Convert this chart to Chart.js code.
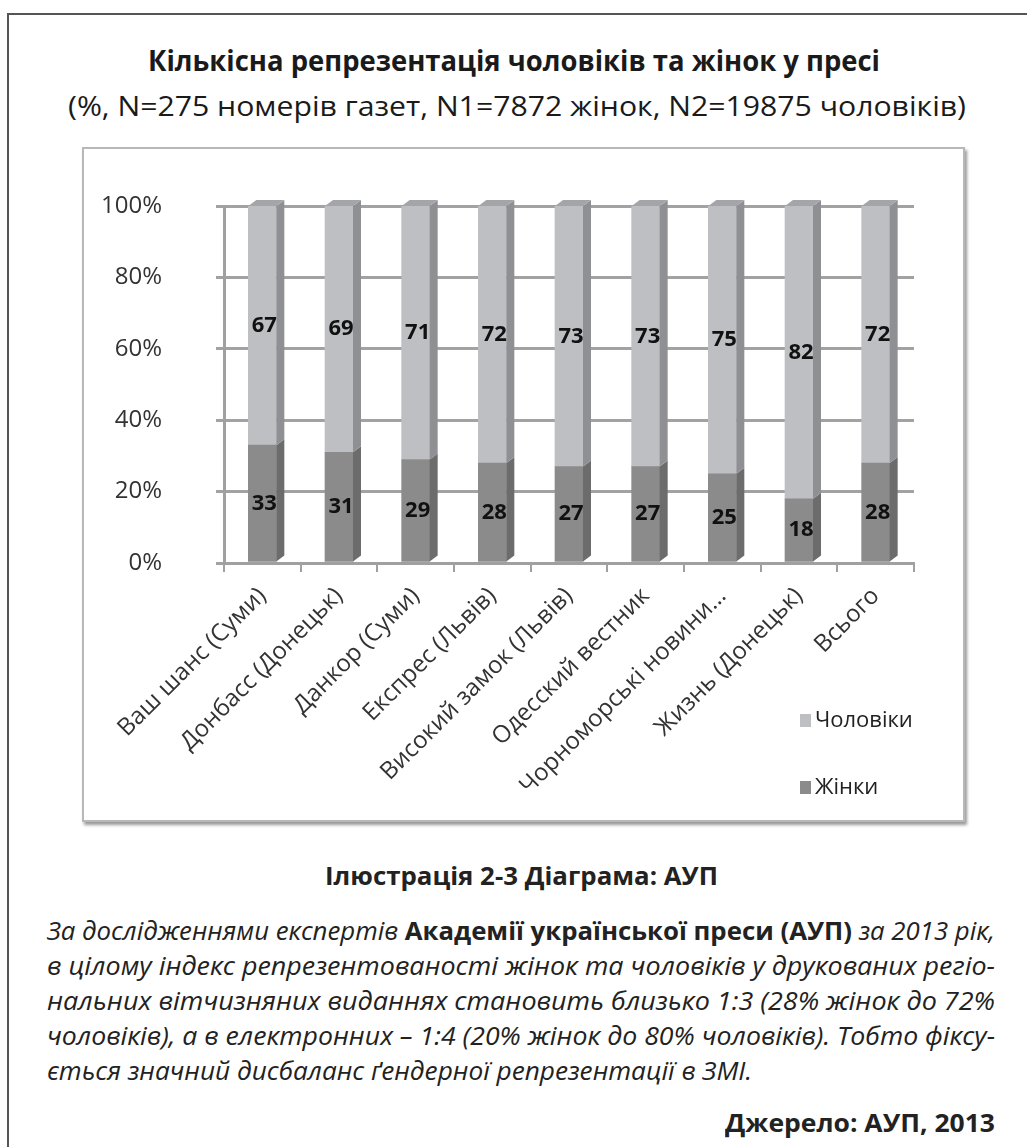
<!DOCTYPE html>
<html>
<head>
<meta charset="utf-8">
<script src="https://cdn.jsdelivr.net/npm/chart.js@4/dist/chart.umd.min.js"></script>
<style>
  body { margin: 0; background: #fff; width: 1027px; height: 1147px; overflow: hidden; position: relative; font-family: "Open Sans", sans-serif; color: #222; }
  .outer { position: absolute; left: 7px; top: 13px; width: 1040px; height: 1160px; border-left: 2px solid #555; border-top: 2px solid #555; }
  .t { position: absolute; white-space: nowrap; transform-origin: left top; }
  .frame { position: absolute; left: 82px; top: 147px; width: 879px; height: 671px; border: 2px solid #b8b8b8; box-shadow: 2px 3px 3px #999; background: #fff; }
  #wrap { position: absolute; left: 84px; top: 149px; width: 879px; height: 671px; }
</style>
</head>
<body>
<div class="outer"></div>

<div class="t" data-x="148" data-w="732" style="top:40px;font-size:29px;font-weight:700;color:#1a1a1a">Кількісна репрезентація чоловіків та жінок у пресі</div>
<div class="t" data-x="68" data-w="898" style="top:86px;font-size:28px;color:#1a1a1a">(%, N=275 номерів газет, N1=7872 жінок, N2=19875 чоловіків)</div>

<div class="frame"></div>
<div id="wrap"><canvas id="chart" width="879" height="671"></canvas></div>

<div class="t" data-x="325" data-w="393" style="top:858px;font-size:25px;font-weight:700">Ілюстрація 2-3 Діаграма: АУП</div>
<div class="t" data-x="47" data-w="948" style="top:913px;font-size:25px;font-style:italic">За дослідженнями експертів <b style="font-style:normal">Академії української преси (АУП)</b> за 2013 рік,</div>
<div class="t" data-x="47" data-w="948" style="top:948px;font-size:25px;font-style:italic">в цілому індекс репрезентованості жінок та чоловіків у друкованих регіо-</div>
<div class="t" data-x="47" data-w="948" style="top:983px;font-size:25px;font-style:italic">нальних вітчизняних виданнях становить близько 1:3 (28% жінок до 72%</div>
<div class="t" data-x="47" data-w="948" style="top:1018px;font-size:25px;font-style:italic">чоловіків), а в електронних – 1:4 (20% жінок до 80% чоловіків). Тобто фіксу-</div>
<div class="t" data-x="47" data-w="705" style="top:1053px;font-size:25px;font-style:italic">ється значний дисбаланс ґендерної репрезентації в ЗМІ.</div>
<div class="t" data-x="725" data-w="270" style="top:1105px;font-size:25px;font-weight:700">Джерело: АУП, 2013</div>

<script>
// fit each text line to the width it takes in the scan
document.querySelectorAll('.t').forEach(function (el) {
  var w = el.getBoundingClientRect().width;
  var target = +el.dataset.w;
  el.style.left = el.dataset.x + 'px';
  el.style.transform = 'scaleX(' + (target / w) + ')';
});

const categories = ['Ваш шанс (Суми)', 'Донбасс (Донецьк)', 'Данкор (Суми)', 'Експрес (Львів)',
  'Високий замок (Львів)', 'Одесский вестник', 'Чорноморські новини…', 'Жизнь (Донецьк)', 'Всього'];
const women = [33, 31, 29, 28, 27, 27, 25, 18, 28];
const men = [67, 69, 71, 72, 73, 73, 75, 82, 72];
const yTicks = [0, 20, 40, 60, 80, 100];

const menColor = '#bebfc3', menSide = '#8f9093';
const womenColor = '#8b8b8c', womenSide = '#6c6c6d';

// fake 3d: side and top faces, then value labels and legend
const depth = {
  id: 'depth',
  afterDatasetsDraw(chart) {
    const ctx = chart.ctx;
    const d = 8, dy = 6;
    chart.data.datasets.forEach(function (ds, i) {
      chart.getDatasetMeta(i).data.forEach(function (bar, j) {
        const x1 = bar.x + bar.width / 2;
        const top = Math.min(bar.y, bar.base), bot = Math.max(bar.y, bar.base);
        ctx.fillStyle = ds.sideColor;
        ctx.beginPath();
        ctx.moveTo(x1, top); ctx.lineTo(x1 + d, top - dy);
        ctx.lineTo(x1 + d, bot - dy); ctx.lineTo(x1, bot);
        ctx.closePath(); ctx.fill();
        if (i === chart.data.datasets.length - 1) {
          const x0 = bar.x - bar.width / 2;
          ctx.fillStyle = '#a4a5a8';
          ctx.beginPath();
          ctx.moveTo(x0, top); ctx.lineTo(x0 + d, top - dy);
          ctx.lineTo(x1 + d, top - dy); ctx.lineTo(x1, top);
          ctx.closePath(); ctx.fill();
        }
        ctx.fillStyle = '#111';
        ctx.font = 'bold 22px "Open Sans", sans-serif';
        ctx.textAlign = 'center';
        ctx.textBaseline = 'middle';
        ctx.fillText(ds.data[j], bar.x + 2, (top + bot) / 2);
      });
    });
    const items = [['Чоловіки', menColor, 571], ['Жінки', womenColor, 638]];
    items.forEach(function (it) {
      ctx.fillStyle = it[1];
      ctx.fillRect(716, it[2] - 6, 11, 13);
      ctx.fillStyle = '#222';
      ctx.font = '22px "Open Sans", sans-serif';
      ctx.textAlign = 'left';
      ctx.fillText(it[0], 731, it[2] + 1);
    });
  }
};

new Chart(document.getElementById('chart'), {
  type: 'bar',
  data: {
    labels: categories,
    datasets: [
      { label: 'Жінки', data: women, backgroundColor: womenColor, sideColor: womenSide, barThickness: 28 },
      { label: 'Чоловіки', data: men, backgroundColor: menColor, sideColor: menSide, barThickness: 28 }
    ]
  },
  options: {
    responsive: false,
    animation: false,
    layout: { padding: { top: 57, right: 49, left: 0, bottom: 0 } },
    plugins: { legend: { display: false }, tooltip: { enabled: false } },
    scales: {
      x: {
        stacked: true,
        offset: true,
        afterFit(a) { a.height = 257; },
        grid: { display: true, drawOnChartArea: false, offset: true, color: '#a0a0a0', lineWidth: 2, tickLength: 9 },
        border: { color: '#a0a0a0', width: 3 },
        ticks: { color: '#333', font: { size: 24, family: 'Open Sans' }, minRotation: 45, maxRotation: 45, padding: 10 }
      },
      y: {
        stacked: true,
        min: 0, max: 100,
        afterFit(a) { a.width = 140; a.paddingTop = 0; a.paddingBottom = 0; },
        afterBuildTicks(a) { a.ticks = yTicks.map(function (v) { return { value: v }; }); },
        grid: { color: '#a2a2a2', lineWidth: 3, tickLength: 8 },
        border: { color: '#a0a0a0', width: 3 },
        ticks: { color: '#333', font: { size: 24, family: 'Open Sans' }, padding: 54, callback: function (v) { return v + '%'; } }
      }
    }
  },
  plugins: [depth]
});
</script>
</body>
</html>
